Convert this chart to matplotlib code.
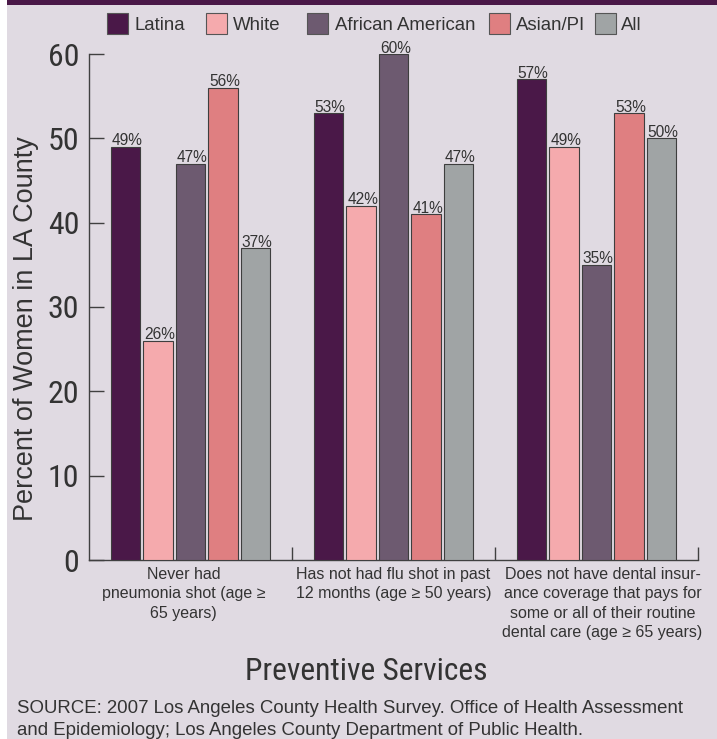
import matplotlib
matplotlib.use("Agg")
import matplotlib.pyplot as plt
from matplotlib.patches import Rectangle
from matplotlib import font_manager as fm

# ---- data -------------------------------------------------------------
categories = [
    "Never had\npneumonia shot (age \u2265\n65 years)",
    "Has not had flu shot in past\n12 months (age \u2265 50 years)",
    "Does not have dental insur-\nance coverage that pays for\nsome or all of their routine\ndental care (age \u2265 65 years)",
]
groups = ["Latina", "White", "African American", "Asian/PI", "All"]
latina = [49, 53, 57]
white = [26, 42, 49]
african_american = [47, 60, 35]
asian_pi = [56, 41, 53]
all_women = [37, 47, 50]
yticks = [0, 10, 20, 30, 40, 50, 60]

series = [latina, white, african_american, asian_pi, all_women]

# ---- style ------------------------------------------------------------
colors = ["#4A1848", "#F5AAAD", "#6D5A70", "#DF7F81", "#A0A4A5"]
bg = "#E0DAE2"
band = "#4A1848"
ink = "#333333"
edge = "#3E3E3E"
regular = ["Liberation Sans", "DejaVu Sans"]


def find_condensed():
    """Return the path of an installed narrow/condensed sans face, if any."""
    prefs = ["LiberationSansNarrow-Regular", "RobotoCondensed-Regular",
             "OpenSans_Condensed-Regular", "OpenSansCondensed",
             "DejaVuSansCondensed.ttf"]
    files = [f.fname for f in fm.fontManager.ttflist]
    for key in prefs:
        for path in files:
            if key.lower() in path.lower().replace(" ", ""):
                return path
    for path in files:
        low = path.lower()
        if ("narrow" in low or "condensed" in low) and "bold" not in low \
                and "italic" not in low and "oblique" not in low:
            return path
    return None


cond_path = find_condensed()


def narrow_font(size):
    if cond_path:
        return fm.FontProperties(fname=cond_path, size=size)
    # no condensed face installed: a slightly smaller regular face
    return fm.FontProperties(family=regular, size=size * 0.86)


W, H = 717, 739


def fx(px):
    return px / W


def fy(py):
    return 1 - py / H


fig = plt.figure(figsize=(W / 100, H / 100), dpi=100, facecolor=bg)
# white strip on the left edge and purple band along the top
fig.add_artist(Rectangle((0, 0), fx(7), 1, transform=fig.transFigure,
                         facecolor="white", edgecolor="none"))
fig.add_artist(Rectangle((fx(7), fy(5)), 1 - fx(7), 5 / H, transform=fig.transFigure,
                         facecolor=band, edgecolor="none"))

ax = fig.add_axes([fx(89), fy(560), fx(698) - fx(89), (560 - 54) / H])
ax.set_facecolor("none")

pitch = 0.16
width = 0.146
n = len(groups)
for j, (vals, col) in enumerate(zip(series, colors)):
    xs = [i + (j - (n - 1) / 2) * pitch for i in range(len(categories))]
    bars = ax.bar(xs, vals, width=width, color=col, edgecolor=edge,
                  linewidth=0.8, zorder=3)
    for rect, v in zip(bars, vals):
        ax.annotate(f"{v}%", xy=(rect.get_x(), rect.get_height()),
                    xytext=(0.8, 1.0), textcoords="offset points",
                    ha="left", va="baseline", fontsize=11.2,
                    family=regular, color=ink, zorder=4)

ax.set_xlim(-0.5, len(categories) - 0.5)
ax.set_ylim(0, 60)
ax.set_yticks(yticks)
ax.set_yticklabels([str(t) for t in yticks], fontproperties=narrow_font(23), color=ink)
ax.set_xticks([i + 0.5 for i in range(len(categories))])
ax.set_xticklabels([])

for side in ("top", "right"):
    ax.spines[side].set_visible(False)
for side in ("left", "bottom"):
    ax.spines[side].set_color("#404040")
    ax.spines[side].set_linewidth(1.0)

ax.tick_params(axis="y", direction="in", length=10.8, width=1.0,
               color="#404040", pad=7)
ax.tick_params(axis="x", direction="in", length=9.4, width=1.0,
               color="#404040")

# category labels under each group
label_shift = [-7, 0, 6]
for i, (cat, dx) in enumerate(zip(categories, label_shift)):
    ax.annotate(cat, xy=(i, 0), xycoords=("data", "axes fraction"),
                xytext=(dx * 0.72, -5), textcoords="offset points",
                ha="center", va="top", fontsize=11.5, linespacing=1.36,
                family=regular, color=ink)

# legend drawn along the top
leg_patch_x = [107, 206, 307, 489, 595]
leg_text_x = [134, 233, 335, 516, 621]
for name, col, px, tx in zip(groups, colors, leg_patch_x, leg_text_x):
    fig.add_artist(Rectangle((fx(px), fy(34)), 21 / W, 21 / H,
                             transform=fig.transFigure, facecolor=col,
                             edgecolor="#555555", linewidth=0.8))
    fig.text(fx(tx), fy(29.5), name, ha="left", va="baseline",
             fontsize=13.4, family=regular, color=ink)

fig.text(fx(26), fy(328.5), "Percent of Women in LA County", rotation=90,
         ha="center", va="center", fontsize=19.5, family=regular, color=ink)
fig.text(fx(366), fy(680), "Preventive Services", ha="center", va="baseline",
         fontproperties=narrow_font(22.8), color=ink)

fig.text(fx(17), fy(713),
         "SOURCE: 2007 Los Angeles County Health Survey. Office of Health Assessment",
         ha="left", va="baseline", fontsize=13.45, family=regular, color=ink)
fig.text(fx(17), fy(735),
         "and Epidemiology; Los Angeles County Department of Public Health.",
         ha="left", va="baseline", fontsize=13.45, family=regular, color=ink)

fig.savefig("out.png", dpi=100, facecolor=bg)
